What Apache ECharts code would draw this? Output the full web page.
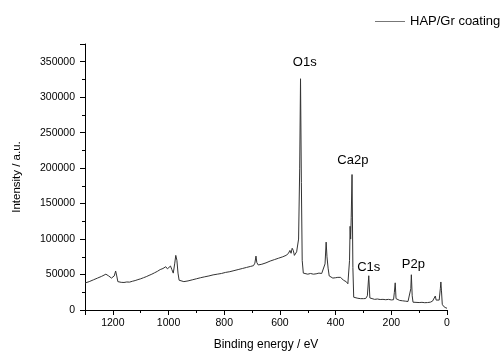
<!DOCTYPE html>
<html>
<head>
<meta charset="utf-8">
<script src="https://cdn.jsdelivr.net/npm/echarts@6/dist/echarts.min.js"></script>
<style>html,body{margin:0;padding:0;background:#fff;}#c{width:502px;height:356px;}</style>
</head>
<body>
<div id="c"></div>
<script>
// Binding energy (eV) and intensity (a.u.)
const energy = [
  1300,1285,1270,1255,1240,1225,1215,1205,1200,1195,1190,1186,1182,1178,1170,1160,1150,1140,1130,1120,
  1110,1100,1090,1080,1070,1060,1050,1040,1030,1020,1010,1004,998,993,988,983,978,974,970,966,
  962,956,945,930,915,900,885,870,855,840,825,810,795,780,765,750,735,720,705,695,
  690,686,683,678,665,650,635,620,605,590,578,570,564,560,556,552,548,540,533,529,
  526,523,520,516,510,500,490,480,470,460,450,444,438,434,431,427,423,418,410,400,
  392,386,382,378,372,368,362,356,352,350,348,346,344,341,338,335,330,320,310,300,
  292,288,286,281,277,270,260,250,240,230,220,210,200,192,189,186,183,178,170,160,
  150,140,133,130,128,125,122,115,100,90,80,70,60,52,46,42,39,34,28,24,
  22,20,17,12,8,4,0
];
const intensity = [
  38000,40000,42500,45000,47500,50500,48000,45000,44000,48000,55000,48000,40000,38500,39000,38800,39500,39300,40500,41500,
  42800,44000,45500,47000,48800,50500,52500,54500,57000,58500,61000,58000,60500,62000,57000,52000,65000,77000,70000,52000,
  42000,39500,40000,41000,42500,44000,45500,46800,48000,49500,50500,51500,53000,54000,55500,57000,58500,60000,61500,62500,
  66000,76000,67000,63500,64500,66500,69000,71000,73000,75000,77000,79500,84000,80000,87000,84000,77000,82000,100000,200000,
  326000,180000,70000,52000,51000,50500,51500,50500,51000,52000,51500,53000,65000,95700,75000,59000,48000,45500,45000,45500,
  46000,48500,46000,45000,42000,44000,40000,37000,38000,70000,118000,100000,130000,191000,60000,18000,17000,16500,16000,16000,
  16200,17000,20000,48300,17000,15500,15000,15500,14800,15000,14500,15000,14200,14500,25000,38300,16000,14000,13500,13000,
  12500,12000,12500,30000,49700,20000,11000,10800,10500,10800,10300,10500,11000,12500,15000,19700,14000,12000,14000,30000,
  39500,28000,8000,5000,4500,3000,2500
];
// Peak annotations (label text and the data-space point where each label sits)
const peakNames = ['O1s', 'Ca2p', 'C1s', 'P2p'];
const peakLabelE = [511, 338, 281, 121];
const peakLabelI = [349400, 211300, 59800, 64900];
const seriesName = 'HAP/Gr coating';

const spectrum = energy.map((e, i) => [e, intensity[i]]);
const annotations = peakNames.map((n, i) => ({ name: n, value: [peakLabelE[i], peakLabelI[i]] }));

const FONT = 'Liberation Sans, Arial, sans-serif';
const plain = v => String(v);
const chart = echarts.init(document.getElementById('c'), null, { renderer: 'canvas' });
chart.setOption({
  animation: false,
  backgroundColor: '#fff',
  textStyle: { fontFamily: FONT },
  grid: { left: 85, right: 55, top: 44, bottom: 40, containLabel: false },
  legend: {
    data: [seriesName],
    left: 375, top: 15, padding: 0,
    icon: 'rect', itemWidth: 30, itemHeight: 1,
    itemStyle: { color: '#777' },
    textStyle: { fontFamily: FONT, fontSize: 13, color: '#000' }
  },
  xAxis: {
    type: 'value', inverse: true, min: 0, max: 1300, interval: 200,
    name: 'Binding energy / eV', nameLocation: 'middle', nameGap: 29,
    nameTextStyle: { fontFamily: FONT, fontSize: 12, color: '#000' },
    axisLine: { show: true, onZero: false, lineStyle: { color: '#000', width: 1 } },
    axisTick: { show: true, inside: false, length: 5, lineStyle: { color: '#000' } },
    minorTick: { show: true, splitNumber: 2, length: 3, lineStyle: { color: '#000' } },
    splitLine: { show: false },
    axisLabel: { fontFamily: FONT, fontSize: 10.5, color: '#000', margin: 8, showMaxLabel: false, formatter: plain }
  },
  yAxis: {
    type: 'value', min: 0, max: 375000, interval: 50000, position: 'left',
    name: 'Intensity / a.u.', nameLocation: 'middle', nameGap: 62, nameRotate: 90,
    nameTextStyle: { fontFamily: FONT, fontSize: 11.5, color: '#000' },
    axisLine: { show: true, onZero: false, lineStyle: { color: '#000', width: 1 } },
    axisTick: { show: true, inside: false, length: 5, lineStyle: { color: '#000' } },
    minorTick: { show: true, splitNumber: 2, length: 3, lineStyle: { color: '#000' } },
    splitLine: { show: false },
    axisLabel: { fontFamily: FONT, fontSize: 10.5, color: '#000', margin: 10, showMaxLabel: false, formatter: plain }
  },
  series: [
    {
      name: seriesName, type: 'line', data: spectrum,
      showSymbol: false, symbol: 'none',
      lineStyle: { color: '#333', width: 1 },
      itemStyle: { color: '#777' }
    },
    {
      name: 'labels', type: 'scatter', data: annotations,
      symbolSize: 1, silent: true,
      itemStyle: { color: 'transparent', opacity: 1 },
      label: { show: true, position: 'inside', formatter: '{b}', fontFamily: FONT, fontSize: 13, color: '#000', textBorderWidth: 0 }
    }
  ]
});
</script>
</body>
</html>
